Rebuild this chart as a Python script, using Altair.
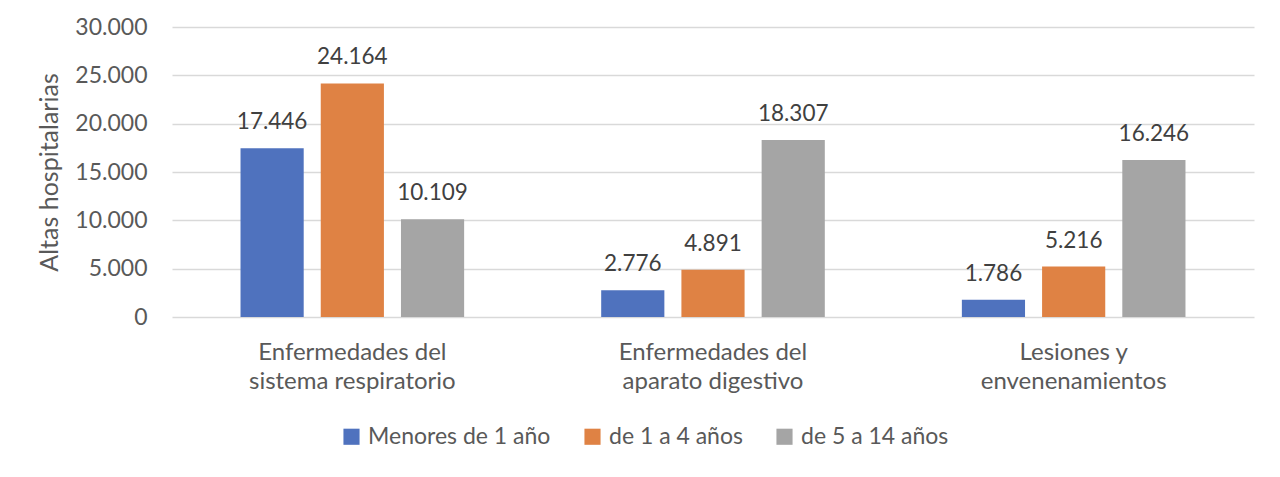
import altair as alt
import pandas as pd

categories = ["Enfermedades del\nsistema respiratorio",
              "Enfermedades del\naparato digestivo",
              "Lesiones y\nenvenenamientos"]
series = ["Menores de 1 año", "de 1 a 4 años", "de 5 a 14 años"]
menores_1 = [17446, 2776, 1786]
de_1_a_4 = [24164, 4891, 5216]
de_5_a_14 = [10109, 18307, 16246]
colors = ["#4F72BE", "#DF8244", "#A5A5A5"]

rows = []
for s, vals in zip(series, [menores_1, de_1_a_4, de_5_a_14]):
    for c, v in zip(categories, vals):
        rows.append({"cat": c, "serie": s, "valor": v})
df = pd.DataFrame(rows)

FONT = "Lato"
GRAY = "#595959"

base = alt.Chart(df).encode(
    x=alt.X("cat:N", sort=categories, title=None,
            scale=alt.Scale(paddingInner=0.38, paddingOuter=0.19),
            axis=alt.Axis(labelAngle=0, labelExpr="split(datum.label, '\\n')",
                          labelFontSize=24, labelColor=GRAY, labelFont=FONT,
                          labelLineHeight=29, labelPadding=23, ticks=False,
                          labelLimit=500, domain=False, grid=False)),
    xOffset=alt.XOffset("serie:N", sort=series,
                        scale=alt.Scale(paddingInner=0.2125, paddingOuter=0)),
)

bars = base.mark_bar().encode(
    y=alt.Y("valor:Q", title="Altas hospitalarias",
            scale=alt.Scale(domain=[0, 30000]),
            axis=alt.Axis(values=[0, 5000, 10000, 15000, 20000, 25000, 30000],
                          labelExpr="replace(format(datum.value, ',d'), ',', '.')",
                          labelFontSize=23, labelColor=GRAY, labelFont=FONT,
                          labelPadding=25, ticks=False, domain=False,
                          gridColor="#D9D9D9", gridWidth=1.5,
                          titleFontSize=25, titleColor=GRAY, titleFont=FONT,
                          titleFontWeight="normal", titlePadding=12)),
    color=alt.Color("serie:N", sort=series,
                    scale=alt.Scale(domain=series, range=colors),
                    legend=alt.Legend(title=None, orient="none", direction="horizontal",
                                      legendX=168, legendY=398,
                                      symbolType="square", symbolSize=260,
                                      symbolStrokeWidth=0, labelLimit=500,
                                      labelFontSize=23, labelColor=GRAY, labelFont=FONT,
                                      labelOffset=5, columnPadding=30)),
)

labels = base.mark_text(baseline="bottom", dy=-14, fontSize=22.5, font=FONT,
                        color="#404040").encode(
    y=alt.Y("valor:Q"),
    text=alt.Text("lbl:N"),
).transform_calculate(lbl="replace(format(datum.valor, ',d'), ',', '.')")

chart = alt.layer(bars, labels).properties(
    width=1082, height=290,
    autosize=alt.AutoSizeParams(type="none"),
    padding={"left": 164, "top": 19, "right": 18, "bottom": 150},
).configure_view(stroke=None)

chart.save("out.html", embed_options={"renderer": "svg", "actions": False})
